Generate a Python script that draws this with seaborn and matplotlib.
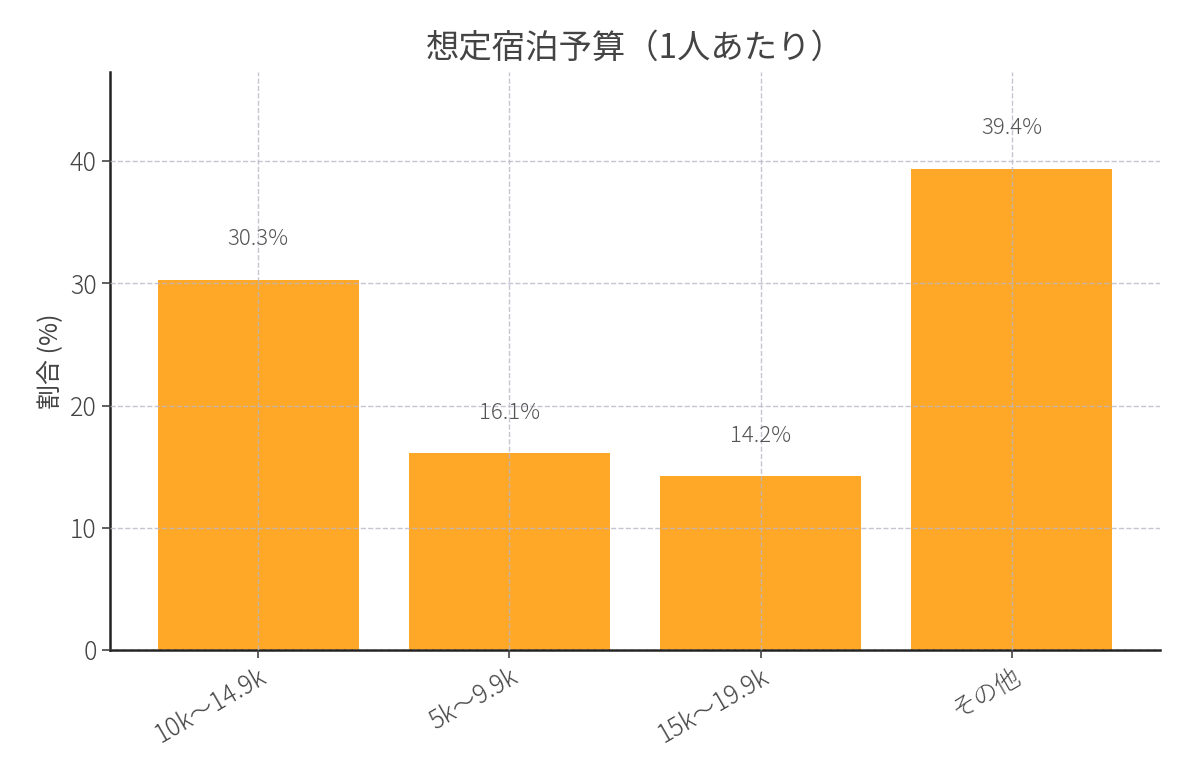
import matplotlib
matplotlib.use("Agg")
import matplotlib.pyplot as plt
import seaborn as sns
import pandas as pd

categories = ["10k〜14.9k", "5k〜9.9k", "15k〜19.9k", "その他"]
values = [30.3, 16.1, 14.2, 39.4]
yticks = [0, 10, 20, 30, 40]

plt.rcParams["font.family"] = "Noto Sans CJK JP"
plt.rcParams["font.weight"] = "light"
txt = "#444444"

df = pd.DataFrame({"cat": categories, "val": values})
fig = plt.figure(figsize=(11.8, 7.8), dpi=100)
ax = fig.add_axes([110/1180, 130/780, 1050/1180, 578/780])
sns.barplot(data=df, x="cat", y="val", color="#FFA726", saturation=1, width=0.8, ax=ax, zorder=2)
ax.set_axisbelow(False)
ax.grid(True, linestyle="--", color="#b8b8c8", linewidth=1, alpha=0.8, zorder=3)
ax.set_xlim(-0.59, 3.59)
ax.set_ylim(0, 47.3)
ax.set_yticks(yticks)
for i, v in enumerate(values):
    ax.text(i, v + 3.3, f"{v}%", ha="center", va="center", fontsize=16, color="#555555")
ax.set_xlabel("")
ax.set_ylabel("割合 (%)", fontsize=18, color=txt)
ax.set_title("想定宿泊予算（1人あたり）", fontsize=24, color=txt, pad=10)
ax.tick_params(axis="y", labelsize=18, colors=txt, length=6, width=1.2)
ax.tick_params(axis="x", labelsize=18, colors=txt, length=6, width=1.2)
plt.setp(ax.get_xticklabels(), rotation=30, ha="right", rotation_mode="anchor")
for s in ["top", "right"]:
    ax.spines[s].set_visible(False)
for s in ["left", "bottom"]:
    ax.spines[s].set_linewidth(1.8)
    ax.spines[s].set_color("#222222")
fig.savefig("out.png", dpi=100)
